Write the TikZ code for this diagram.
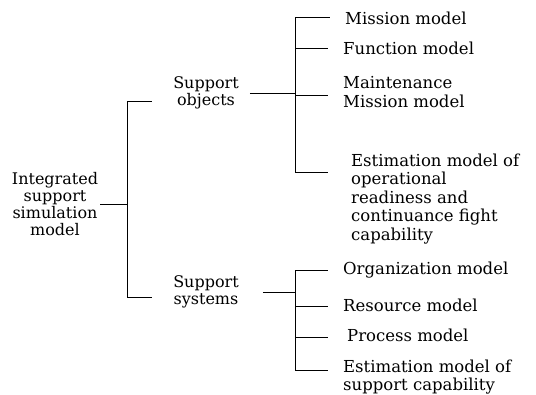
\documentclass[tikz,border=0pt]{standalone}
\usepackage{fontspec}
\setmainfont{DejaVu Serif}
\usepackage{tikz}
\usetikzlibrary{positioning}

\begin{document}
\begin{tikzpicture}[x=1pt, y=-1pt,
    group/.style={align=center, inner sep=2pt, font=\fontsize{16}{17}\selectfont},
    leaf/.style={align=left, anchor=west, inner sep=2pt, font=\fontsize{16.5}{18.5}\selectfont},
    link/.style={line width=1pt},
    branch/.style={link, shorten >=13pt}
]
    \useasboundingbox (0,0) rectangle (536,394);

    \node[group] (root) at (55, 204) {Integrated\\support\\simulation\\model};
    \node[group] (objects) at (206, 93) {Support\\objects};
    \node[group] (systems) at (206, 292) {Support\\systems};

    \node[leaf] (mis) at (343, 18) {Mission model};
    \node[leaf] (fun) at (341, 48) {Function model};
    \node[leaf] (mnt) at (341, 92) {Maintenance\\Mission model};
    \node[leaf] (est) at (349, 199) {Estimation model of\\operational\\readiness and\\continuance fight\\capability};
    \node[leaf] (org) at (341, 270) {Organization model};
    \node[leaf] (res) at (341, 305) {Resource model};
    \node[leaf] (pro) at (345, 335) {Process model};
    \node[leaf] (sup) at (341, 377) {Estimation model of\\support capability};

    % root bracket
    \coordinate (rj) at (127, 204);
    \coordinate (rt) at (127, 101);
    \coordinate (rb) at (127, 297);
    \draw[link] (root) -- (rj);
    \draw[link] (rt) -- (rb);
    \draw[branch, shorten >=19pt] (rt) -- (rt -| objects.west);
    \draw[branch, shorten >=19pt] (rb) -- (rb -| systems.west);

    % support objects
    \coordinate (oj) at (295, 93);
    \coordinate (o1) at (295, 17);
    \coordinate (o2) at (295, 48);
    \coordinate (o3) at (295, 95);
    \coordinate (o4) at (295, 172);
    \draw[link, shorten <=9pt] (objects.east) -- (oj);
    \draw[link] (o1) -- (o4);
    \draw[branch] (o1) -- (o1 -| mis.west);
    \draw[branch] (o2) -- (o2 -| fun.west);
    \draw[branch] (o3) -- (o3 -| mnt.west);
    \draw[branch, shorten >=21pt] (o4) -- (o4 -| est.west);

    % support systems
    \coordinate (sj) at (295, 292);
    \coordinate (s1) at (295, 270);
    \coordinate (s2) at (295, 306);
    \coordinate (s3) at (295, 337);
    \coordinate (s4) at (295, 370);
    \draw[link, shorten <=22pt] (systems.east) -- (sj);
    \draw[link] (s1) -- (s4);
    \draw[branch] (s1) -- (s1 -| org.west);
    \draw[branch] (s2) -- (s2 -| res.west);
    \draw[branch, shorten >=17pt] (s3) -- (s3 -| pro.west);
    \draw[branch] (s4) -- (s4 -| sup.west);
\end{tikzpicture}
\end{document}
